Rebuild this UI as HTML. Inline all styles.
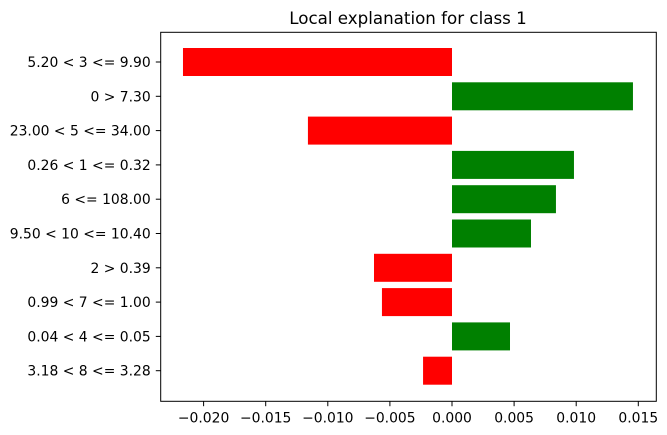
<!DOCTYPE html>
<html><head><meta charset="utf-8"><style>
body{margin:0;background:#fff;}
svg{display:block;font-family:"DejaVu Sans","Liberation Sans",sans-serif;}
</style></head><body>
<svg id="chart" width="667" height="435" viewBox="0 0 667 435"></svg>
<script>
const labels = ["5.20 < 3 <= 9.90","0 > 7.30","23.00 < 5 <= 34.00","0.26 < 1 <= 0.32","6 <= 108.00","9.50 < 10 <= 10.40","2 > 0.39","0.99 < 7 <= 1.00","0.04 < 4 <= 0.05","3.18 < 8 <= 3.28"];
const weights = [-0.02166,0.01457,-0.0116,0.00982,0.00837,0.00636,-0.00628,-0.00564,0.00467,-0.00233];
const xTicks = [-0.020,-0.015,-0.010,-0.005,0.000,0.005,0.010,0.015];
const xTickLabels = ["\u22120.020","\u22120.015","\u22120.010","\u22120.005","0.000","0.005","0.010","0.015"];

const NS="http://www.w3.org/2000/svg";
const svg=document.getElementById('chart');
const L=160.7,R=656.3,T=32.3,B=401.3;
const x=v=>452+v/0.005*62.1;
const y=i=>62+i*34.3;
function mk(tag,attrs,parent){const e=document.createElementNS(NS,tag);for(const k in attrs)e.setAttribute(k,attrs[k]);(parent||svg).appendChild(e);return e;}

const title=mk('text',{x:408,y:24,'text-anchor':'middle','font-size':16.7,fill:'#000'});


title.textContent='Local explanation for class 1';

weights.forEach((w,i)=>{
  const x0=Math.min(x(0),x(w)),x1=Math.max(x(0),x(w));
  const r=mk('rect',{x:x0,y:y(i)-14,width:x1-x0,height:28,fill:w<0?'#ff0000':'#008000'});
  
  
  mk('line',{x1:L-4.9,x2:L,y1:y(i),y2:y(i),stroke:'#000','stroke-width':1});
  const t=mk('text',{x:L-10,y:y(i)+5,'text-anchor':'end','font-size':13.9,fill:'#000'});
  
  
  t.textContent=labels[i];
});
xTicks.forEach((v,i)=>{
  mk('line',{x1:x(v),x2:x(v),y1:B,y2:B+4.9,stroke:'#000','stroke-width':1});
  const t=mk('text',{x:x(v),y:B+21,'text-anchor':'middle','font-size':13.9,fill:'#000'});
  
  
  t.textContent=xTickLabels[i];
});
const frame=mk('rect',{x:L,y:T,width:R-L,height:B-T,fill:'none',stroke:'#000','stroke-width':1});


</script>
</body></html>
